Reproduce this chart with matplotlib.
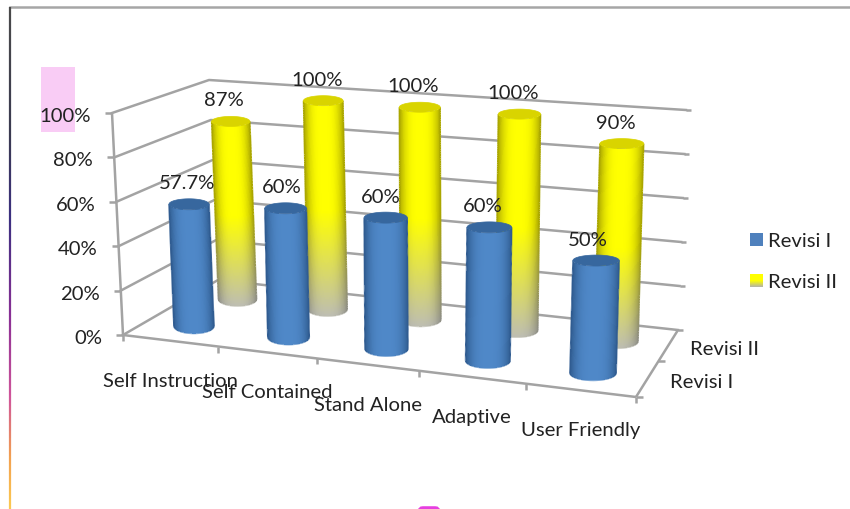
import numpy as np
import matplotlib
matplotlib.use("Agg")
import matplotlib.pyplot as plt
from matplotlib.patches import Rectangle, Polygon, FancyBboxPatch
from matplotlib.collections import LineCollection
from matplotlib.colors import LinearSegmentedColormap, to_rgb

plt.rcParams['font.family'] = ['Lato', 'DejaVu Sans']

categories = ["Self Instruction", "Self Contained", "Stand Alone", "Adaptive", "User Friendly"]
series_names = ["Revisi I", "Revisi II"]
revisi_1 = [57.7, 60, 60, 60, 50]
revisi_2 = [87, 100, 100, 100, 90]
value_ticks = [0, 20, 40, 60, 80, 100]

fig = plt.figure(figsize=(8.5, 5.1), dpi=100)
ax = fig.add_axes([0, 0, 1, 1])
ax.set_xlim(0, 850)
ax.set_ylim(510, 0)
ax.axis("off")

# Corners of the chart box: front-left, front-right, back-right, back-left
FLOOR = np.array([[123, 336], [636, 398], [678, 331], [218, 281]], float)
# Offset from floor to the 100% level at the same four corners
RISE = np.array([[-11, -222], [8, -240], [8, -220], [-9, -200]], float)


def homography(quad):
    src = [(0, 0), (1, 0), (1, 1), (0, 1)]
    rows, rhs = [], []
    for (u, v), (x, y) in zip(src, quad):
        rows.append([u, v, 1, 0, 0, 0, -u * x, -v * x])
        rows.append([0, 0, 0, u, v, 1, -u * y, -v * y])
        rhs += [x, y]
    h = np.linalg.solve(np.array(rows), np.array(rhs))
    return np.append(h, 1).reshape(3, 3)


H_FLOOR = homography(FLOOR)


def project(cat, depth, value):
    """Category position (0-5), depth (0-1) and percent value to canvas position."""
    u = cat / len(categories)
    p = H_FLOOR @ np.array([u, depth, 1.0])
    base = p[:2] / p[2]
    rise = ((1 - u) * (1 - depth) * RISE[0] + u * (1 - depth) * RISE[1]
            + u * depth * RISE[2] + (1 - u) * depth * RISE[3])
    return base + rise * value / 100.0


GRID = "#a3a3a3"
TEXT = "#222222"
FS = 14.6


def seg(p, q, lw=1.8, z=1):
    ax.plot([p[0], q[0]], [p[1], q[1]], color=GRID, lw=lw, zorder=z, solid_capstyle="butt")


# Walls, floor and tick marks
n = len(categories)
for t in value_ticks:
    fl, bl, br = project(0, 0, t), project(0, 1, t), project(n, 1, t)
    ax.plot([fl[0], bl[0], br[0]], [fl[1], bl[1], br[1]], color=GRID, lw=1.8, zorder=1)
    seg(fl, fl + [-7, 0])
    seg(br, br + [5, 0])
    ax.text(fl[0] - 21, fl[1] + 2.5, f"{t}%", ha="right", va="center", fontsize=FS,
            color=TEXT, zorder=6)
seg(project(0, 0, 0), project(0, 0, 100))
seg(project(0, 0, 0), project(n, 0, 0))
seg(project(n, 0, 0), project(n, 1, 0))
for c in range(n + 1):
    p = project(c, 0, 0)
    seg(p, p + [0, 6])
for d in (0.5, 0.0):
    p = project(n, d, 0)
    seg(p, p + [7, 0])

# Columns stop a little short of the wall scale, as the rounded caps sit inside it
CAP_DROP = 2.5


def cylinder(cat, depth, value, centre, edge, cap, fade_to=None, fade_from=0.5,
             b_top=5.0, b_bottom=7.5, du=0.215, scale=0.985, z=2):
    bottom = project(cat, depth, 0)
    top = project(cat, depth, value * scale) + [0, CAP_DROP]
    half = np.linalg.norm(project(cat + du, depth, 0) - project(cat - du, depth, 0)) / 2

    xs = np.linspace(-1, 1, 91)
    ss = np.linspace(0, 1, 121)
    X = np.zeros((len(ss), len(xs)))
    Y = np.zeros_like(X)
    for i, s in enumerate(ss):
        cx, cy = top + (bottom - top) * s
        b = b_top + (b_bottom - b_top) * s
        X[i] = cx + half * xs
        Y[i] = cy + b * np.sqrt(1 - xs ** 2)

    mid = (xs[:-1] + xs[1:]) / 2
    shade = 1 - np.abs(mid) ** 3
    c0, c1 = np.array(to_rgb(centre)), np.array(to_rgb(edge))
    rgb = c1[None, None, :] + (c0 - c1)[None, None, :] * shade[None, :, None]
    rgb = np.repeat(rgb, len(ss) - 1, axis=0)
    if fade_to is not None:
        smid = (ss[:-1] + ss[1:]) / 2
        f = np.clip((smid - fade_from) / (1 - fade_from), 0, 1)[:, None, None]
        target = np.array(to_rgb(fade_to))[None, None, :]
        rgb = rgb + (target * (0.75 + 0.25 * shade[None, :, None]) - rgb) * f
    ax.pcolormesh(X, Y, rgb, shading="flat", zorder=z, antialiased=False, edgecolors="none")

    # Antialiased silhouette so the column sides stay smooth
    outline = []
    colors = []
    for column, face in ((0, rgb[:, 0]), (-1, rgb[:, -1])):
        side = np.c_[X[:, column], Y[:, column]]
        outline.append(np.stack([side[:-1], side[1:]], axis=1))
        colors.append(face)
    arc = np.c_[X[-1], Y[-1]]
    outline.append(np.stack([arc[:-1], arc[1:]], axis=1))
    colors.append(rgb[-1])
    ax.add_collection(LineCollection(np.concatenate(outline), colors=np.clip(np.concatenate(colors), 0, 1),
                                     linewidths=1.0, zorder=z + 0.05))

    t = np.linspace(0, 2 * np.pi, 80)
    ax.add_patch(Polygon(np.c_[top[0] + half * np.cos(t), top[1] + b_top * np.sin(t)],
                         closed=True, fc=cap, ec=cap, lw=0.5, zorder=z + 0.1))
    return top


DEPTH_FRONT, DEPTH_BACK = 0.24, 0.72


def value_label(top, value, dx, dy=-21.5):
    ax.text(top[0] + dx, top[1] + dy, f"{value:g}%", ha="center", va="center", fontsize=FS,
            color=TEXT, zorder=7)


# Back row first so the front row overlaps it
for i, v in enumerate(revisi_2):
    top = cylinder(i + 0.5, DEPTH_BACK, v, "#ffff00", "#a8a400", "#d9d400",
                   fade_to="#bdbdb2", fade_from=0.5, b_top=5.0, b_bottom=7.0, scale=0.995, z=2)
    value_label(top, v, -6.5)
for i, v in enumerate(revisi_1):
    top = cylinder(i + 0.5, DEPTH_FRONT, v, "#4f88c8", "#2f5b8f", "#37679e",
                   b_top=5.5, b_bottom=7.5, z=3)
    value_label(top, v, -2 - 1.5 * i)

# Axis labels
for i, name in enumerate(categories):
    p = project(i + 0.5, 0, 0)
    ax.text(p[0], p[1] + 39.5, name, ha="center", va="center", fontsize=FS, color=TEXT, zorder=6)
for name, d in zip(series_names, (0.25, 0.75)):
    p = project(n, d, 0)
    ax.text(p[0] + 22, p[1] + 3, name, ha="left", va="center", fontsize=FS, color=TEXT, zorder=6)

# Legend
ax.add_patch(Rectangle((750, 234), 13, 13, fc="#4f81bd", ec="none"))
fade = LinearSegmentedColormap.from_list("fade", ["#ffff00", "#ffff00", "#b5b5a5"])
ax.imshow(np.linspace(0, 1, 24)[:, None], extent=(750, 763, 288, 275), cmap=fade, aspect="auto", zorder=2)
ax.set_xlim(0, 850)
ax.set_ylim(510, 0)
ax.text(768, 242, series_names[0], ha="left", va="center", fontsize=FS, color=TEXT)
ax.text(768, 283, series_names[1], ha="left", va="center", fontsize=FS, color=TEXT)

# Slide furniture around the chart
ax.add_patch(Rectangle((41, 68), 34, 65, fc="#f9ccf5", ec="none", zorder=0.5))
ax.add_patch(FancyBboxPatch((420, 510), 18, 6, boxstyle="round,pad=0,rounding_size=3",
                            mutation_scale=1, fc="#e63fe0", ec="#e63fe0", lw=4, zorder=1))
ax.plot([10, 850], [8, 8], color="#a6a6a6", lw=1.8, zorder=1)
ys = np.linspace(8, 510, 200)
edge_cmap = LinearSegmentedColormap.from_list(
    "edge", [(0, "#4a4a4a"), (0.25, "#3a3a50"), (0.42, "#3b2f80"), (0.62, "#8a2f95"),
             (0.78, "#d0559a"), (0.9, "#f2a050"), (1, "#fbc850")])
pts = np.c_[np.full_like(ys, 10), ys]
edge_segments = np.stack([pts[:-1], pts[1:]], axis=1)
ax.add_collection(LineCollection(edge_segments, colors=edge_cmap(np.linspace(0, 1, len(edge_segments))),
                                 linewidths=1.6, zorder=1))

fig.savefig("out.png", dpi=100)
